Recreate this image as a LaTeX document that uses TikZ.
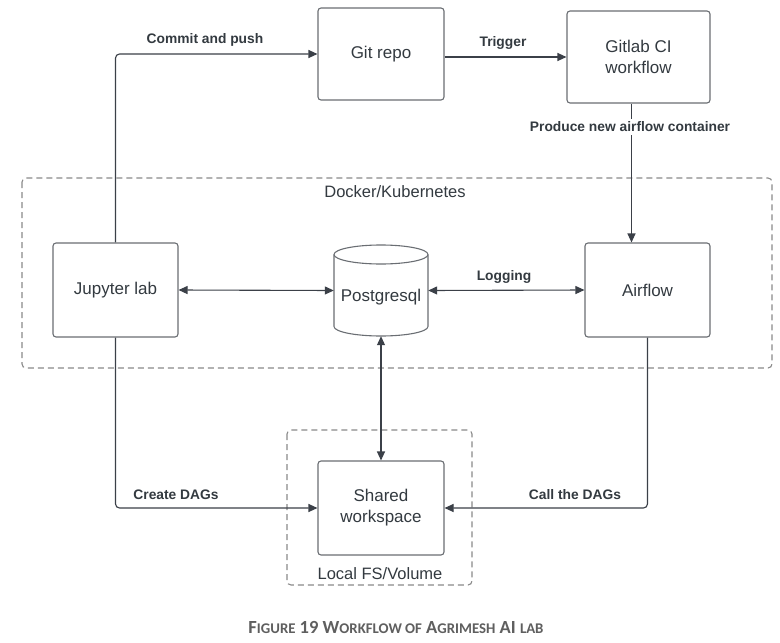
\documentclass[tikz,border=0pt]{standalone}
\usepackage{fontspec}
\setmainfont{Liberation Sans}
\newfontfamily\capfont{Carlito}
\usetikzlibrary{arrows.meta}
\definecolor{linec}{HTML}{3B4048}
\definecolor{boxc}{HTML}{6A6E73}
\definecolor{txtc}{HTML}{333A40}
\definecolor{dashc}{HTML}{8A8A8A}
\definecolor{capc}{HTML}{5F5F5F}
\tikzset{
  procbox/.style={draw=boxc, line width=1.1pt, rounded corners=3pt, fill=white,
    text=txtc, font=\fontsize{17}{21}\selectfont, align=center, inner sep=0pt},
  conn/.style={draw=linec, line width=1.1pt, rounded corners=4pt},
  tip/.style={-{Triangle[length=9pt,width=8pt]}},
  both/.style={{Triangle[length=9pt,width=8pt]}-{Triangle[length=9pt,width=8pt]}},
  elabel/.style={text=txtc, font=\bfseries\fontsize{13.8}{16}\selectfont, inner sep=1pt},
  grouplabel/.style={text=txtc, font=\fontsize{16.5}{19}\selectfont},
  groupbox/.style={draw=dashc, line width=1.1pt, dash pattern=on 6pt off 4pt, rounded corners=4pt}
}
\begin{document}
\begin{tikzpicture}[x=1pt,y=-1pt]
\useasboundingbox[fill=white] (0,0) rectangle (780,643);

% groups
\draw[groupbox] (22,178) rectangle (772,368);
\node[grouplabel] (dk) at (395,192) {Docker/Kubernetes};
\draw[groupbox] (287,430) rectangle (472,585);
\node[grouplabel] (lfs) at (380,574) {Local FS/Volume};

% boxes
\node[procbox, minimum width=126pt, minimum height=92pt] (git) at (381,54) {Git repo};
\node[procbox, minimum width=143pt, minimum height=92pt] (gitlab) at (638.5,57) {Gitlab CI\\workflow};
\node[procbox, minimum width=125pt, minimum height=94pt] (jup) at (115.5,290) {Jupyter lab};
\node[procbox, minimum width=125pt, minimum height=94pt] (air) at (647.5,290) {Airflow};
\node[procbox, minimum width=126pt, minimum height=94pt] (shared) at (381,508) {Shared\\workspace};

% cylinder
\node[minimum width=94pt, minimum height=91pt, inner sep=0pt] (pg) at (381,290.5) {};
\draw[draw=boxc, line width=1.1pt, fill=white]
  (334,254.5) -- (334,326.5) arc[start angle=180, end angle=360, x radius=47pt, y radius=9.5pt]
  -- (428,254.5) arc[start angle=0, end angle=180, x radius=47pt, y radius=9.5pt] -- cycle;
\draw[draw=boxc, line width=1.1pt]
  (334,254.5) arc[start angle=180, end angle=360, x radius=47pt, y radius=9.5pt];
\node[text=txtc, font=\fontsize{17}{20}\selectfont] (pgt) at (381,297) {Postgresql};

% connectors
\draw[conn, tip] (jup.north) |- (git.west);
\node[elabel] (l1) at (205,40) {Commit and push};
\draw[conn, tip] (git.east |- gitlab.west) -- (gitlab.west);
\node[elabel] (l2) at (503,43) {Trigger};
\draw[conn, tip] ([xshift=-7pt]gitlab.south) -- ([xshift=-16pt]air.north);
\node[elabel, fill=white, inner sep=3pt] (l3) at (630,127) {Produce new airflow container};
\draw[conn, both] (jup.east) -- (pg.west);
\draw[conn, both] (pg.east) -- (air.west);
\node[elabel] (l4) at (504,277) {Logging};
\draw[conn, both] (pg.south) -- (shared.north);
\draw[conn, tip] (jup.south) |- (shared.west);
\node[elabel] (l5) at (176,495) {Create DAGs};
\draw[conn, tip] (air.south) |- (shared.east);
\node[elabel] (l6) at (575,495) {Call the DAGs};

% caption
\node[text=capc, font=\capfont\bfseries\fontsize{18.5}{21}\selectfont] (cap) at (396,627)
  {F{\fontsize{14.8}{17}\selectfont IGURE} 19 W{\fontsize{14.8}{17}\selectfont ORKFLOW OF} A{\fontsize{14.8}{17}\selectfont GRIMESH} AI {\fontsize{14.8}{17}\selectfont LAB}};
\end{tikzpicture}
\end{document}
